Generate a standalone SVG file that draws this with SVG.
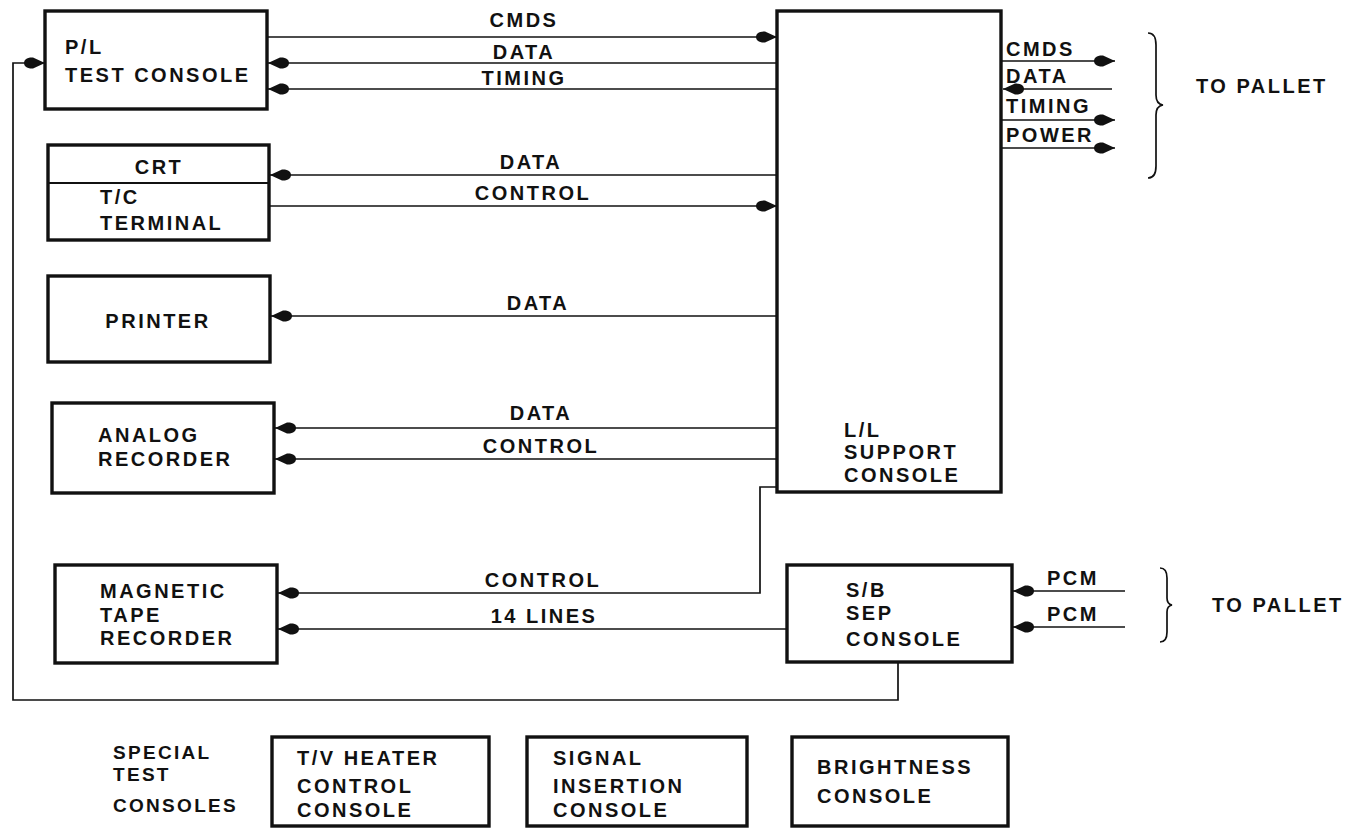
<svg xmlns="http://www.w3.org/2000/svg" width="1351" height="829" viewBox="0 0 1351 829">
<defs>
<style>
text{font-family:"Liberation Sans",Arial,sans-serif;font-weight:bold;font-size:20px;letter-spacing:2.5px;fill:#111}
.c{text-anchor:middle}
.s{font-size:19px;letter-spacing:2.3px}
.box{fill:none;stroke:#111;stroke-width:3.4}
.ln{fill:none;stroke:#111;stroke-width:1.7}
</style>
<marker id="ah" viewBox="0 -7 24 14" refX="22" refY="0" markerWidth="24" markerHeight="14" markerUnits="userSpaceOnUse" orient="auto">
<path d="M22,0 L10,-5.5 C3.5,-5.8 1,-3 1,0 C1,3 3.5,5.8 10,5.5 Z" fill="#111"/>
</marker>
</defs>
<rect width="1351" height="829" fill="#fff"/>

<g id="connectors">
<path class="ln" d="M267,37 H777" marker-end="url(#ah)"/>
<path class="ln" d="M777,63 H268" marker-end="url(#ah)"/>
<path class="ln" d="M777,89 H268" marker-end="url(#ah)"/>
<path class="ln" d="M777,175 H270" marker-end="url(#ah)"/>
<path class="ln" d="M270,206 H777" marker-end="url(#ah)"/>
<path class="ln" d="M777,316 H271" marker-end="url(#ah)"/>
<path class="ln" d="M777,428 H275" marker-end="url(#ah)"/>
<path class="ln" d="M777,459 H275" marker-end="url(#ah)"/>
<path class="ln" d="M777,487 H760 V593 H278" marker-end="url(#ah)"/>
<path class="ln" d="M787,629 H278" marker-end="url(#ah)"/>
<path class="ln" d="M898,663 V700 H13 V63 H45" marker-end="url(#ah)"/>
<path class="ln" d="M1001,61 H1115" marker-end="url(#ah)"/>
<path class="ln" d="M1112,89 H1003" marker-end="url(#ah)"/>
<path class="ln" d="M1001,120 H1115" marker-end="url(#ah)"/>
<path class="ln" d="M1001,148 H1115" marker-end="url(#ah)"/>
<path class="ln" d="M1125,591 H1013" marker-end="url(#ah)"/>
<path class="ln" d="M1125,627 H1013" marker-end="url(#ah)"/>
<text x="524" y="27" class="c">CMDS</text>
<text x="524" y="59" class="c">DATA</text>
<text x="524" y="85" class="c">TIMING</text>
<text x="531" y="169" class="c">DATA</text>
<text x="533" y="200" class="c">CONTROL</text>
<text x="538" y="310" class="c">DATA</text>
<text x="541" y="420" class="c">DATA</text>
<text x="541" y="453" class="c">CONTROL</text>
<text x="543" y="587" class="c">CONTROL</text>
<text x="544" y="623" class="c">14 LINES</text>
<text x="1006" y="56">CMDS</text>
<text x="1006" y="83">DATA</text>
<text x="1006" y="113">TIMING</text>
<text x="1006" y="142">POWER</text>
<text x="1047" y="585">PCM</text>
<text x="1047" y="621">PCM</text>
</g>

<g id="pallet-top">
<path class="ln" d="M1148,33 Q1156,33 1156,45 V95 Q1156,104 1163,105 Q1156,106 1156,115 V166 Q1156,178 1148,178" stroke-width="2.2"/>
<text x="1196" y="93">TO PALLET</text>
</g>
<g id="pallet-bottom">
<path class="ln" d="M1160,568 Q1167,568 1167,578 V598 Q1167,604 1172,605 Q1167,606 1167,612 V632 Q1167,642 1160,642" stroke-width="2.2"/>
<text x="1212" y="612">TO PALLET</text>
</g>

<g id="pl-test-console">
<rect class="box" x="45" y="11" width="222" height="98"/>
<text x="65" y="54">P/L</text>
<text x="65" y="82">TEST CONSOLE</text>
</g>
<g id="crt-terminal">
<rect class="box" x="48" y="145" width="221" height="95"/>
<line x1="48" y1="183" x2="269" y2="183" stroke="#111" stroke-width="1.8"/>
<text x="159" y="174" class="c">CRT</text>
<text x="100" y="204">T/C</text>
<text x="100" y="230">TERMINAL</text>
</g>
<g id="printer">
<rect class="box" x="48" y="276" width="222" height="86"/>
<text x="158" y="328" class="c">PRINTER</text>
</g>
<g id="analog-recorder">
<rect class="box" x="52" y="403" width="222" height="90"/>
<text x="98" y="442">ANALOG</text>
<text x="98" y="466">RECORDER</text>
</g>
<g id="magnetic-tape-recorder">
<rect class="box" x="55" y="565" width="222" height="98"/>
<text x="100" y="598">MAGNETIC</text>
<text x="100" y="622">TAPE</text>
<text x="100" y="645">RECORDER</text>
</g>
<g id="ll-support-console">
<rect class="box" x="777" y="11" width="224" height="481"/>
<text x="844" y="437">L/L</text>
<text x="844" y="459">SUPPORT</text>
<text x="844" y="482">CONSOLE</text>
</g>
<g id="sb-sep-console">
<rect class="box" x="787" y="565" width="225" height="97"/>
<text x="846" y="597">S/B</text>
<text x="846" y="620">SEP</text>
<text x="846" y="646">CONSOLE</text>
</g>
<g id="special-label">
<text class="s" x="113" y="759">SPECIAL</text>
<text class="s" x="113" y="781">TEST</text>
<text class="s" x="113" y="812">CONSOLES</text>
</g>
<g id="tv-heater-console">
<rect class="box" x="272" y="737" width="217" height="89"/>
<text x="297" y="765">T/V HEATER</text>
<text x="297" y="793">CONTROL</text>
<text x="297" y="817">CONSOLE</text>
</g>
<g id="signal-insertion-console">
<rect class="box" x="527" y="737" width="220" height="89"/>
<text x="553" y="765">SIGNAL</text>
<text x="553" y="793">INSERTION</text>
<text x="553" y="817">CONSOLE</text>
</g>
<g id="brightness-console">
<rect class="box" x="792" y="737" width="216" height="89"/>
<text x="817" y="774">BRIGHTNESS</text>
<text x="817" y="803">CONSOLE</text>
</g>
</svg>
